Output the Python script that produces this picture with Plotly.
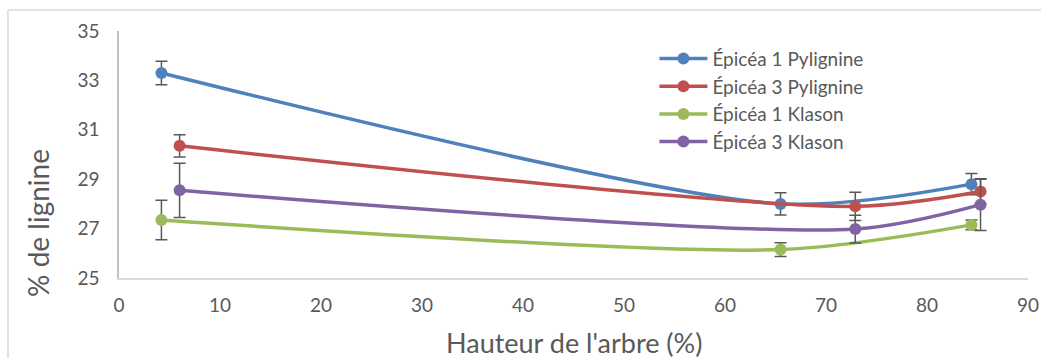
#
# Lignin content along the tree height (Pylignine vs Klason), spruce 1 and 3
#
import plotly.graph_objects as go

# series: x = tree height (%), y = % lignin, err = error bar (+/-)
names = ["Épicéa 1 Pylignine", "Épicéa 3 Pylignine", "Épicéa 1 Klason", "Épicéa 3 Klason"]
colors = ["#4F81BD", "#C0504D", "#9BBB59", "#8064A2"]

x_epicea1 = [4.2, 65.5, 84.4]
x_epicea3 = [6.0, 72.9, 85.3]

y_e1_pyl = [33.3, 28.0, 28.8]
y_e3_pyl = [30.35, 27.9, 28.5]
y_e1_kla = [27.35, 26.15, 27.15]
y_e3_kla = [28.55, 26.98, 27.97]

err_e1_pyl = [0.48, 0.45, 0.43]
err_e3_pyl = [0.45, 0.57, 0.5]
err_e1_kla = [0.8, 0.28, 0.2]
err_e3_kla = [1.1, 0.56, 1.05]

series = [
    (x_epicea1, y_e1_pyl, err_e1_pyl),
    (x_epicea3, y_e3_pyl, err_e3_pyl),
    (x_epicea1, y_e1_kla, err_e1_kla),
    (x_epicea3, y_e3_kla, err_e3_kla),
]

FONT = "Lato, sans-serif"
GREY = "#595959"

fig = go.Figure()
for name, col, (xs, ys, es) in zip(names, colors, series):
    fig.add_trace(go.Scatter(
        x=xs, y=ys, name=name, mode="lines+markers",
        line=dict(color=col, width=3.5, shape="spline", smoothing=0.8),
        marker=dict(color=col, size=12),
        error_y=dict(type="data", array=es, visible=True,
                     color=GREY, thickness=1.5, width=6),
    ))

# light border of the chart area (only top and left are visible in the crop)
fig.add_shape(type="line", xref="paper", yref="paper",
              x0=-0.1221, x1=1.03, y0=1.085, y1=1.085,
              line=dict(color="#d9d9d9", width=1.5))
fig.add_shape(type="line", xref="paper", yref="paper",
              x0=-0.1221, x1=-0.1221, y0=1.085, y1=-0.4,
              line=dict(color="#d9d9d9", width=1.5))

# axis titles placed by hand (Excel-like positions)
fig.add_annotation(text="Hauteur de l'arbre (%)", xref="paper", yref="paper",
                   x=0.5, y=-0.263, xanchor="center", yanchor="middle",
                   showarrow=False, font=dict(size=27, color=GREY))
fig.add_annotation(text="% de lignine", xref="paper", yref="paper",
                   x=-0.0891, y=0.223, xanchor="center", yanchor="middle",
                   textangle=-90, showarrow=False, font=dict(size=28, color=GREY))

fig.update_layout(
    width=1041, height=358,
    margin=dict(l=119, r=13, t=31, b=80),
    paper_bgcolor="white", plot_bgcolor="white",
    font=dict(family=FONT, color=GREY, size=18),
    showlegend=True,
    legend=dict(x=0.589, y=0.965, xanchor="left", yanchor="top",
                bgcolor="rgba(0,0,0,0)", font=dict(size=19, color=GREY),
                itemwidth=48, tracegroupgap=0),
)
fig.update_xaxes(
    range=[0, 90], tickvals=list(range(0, 91, 10)),
    showgrid=False, zeroline=False, showline=True, automargin=False,
    linecolor="#d9d9d9", linewidth=1.5,
    tickfont=dict(size=19, color=GREY), ticks="", ticklabelstandoff=9,
)
fig.update_yaxes(
    range=[25, 35], tickvals=list(range(25, 36, 2)),
    showgrid=False, zeroline=False, showline=True, automargin=False,
    linecolor="#bfbfbf", linewidth=1.5,
    tickfont=dict(size=19, color=GREY), ticks="", ticklabelstandoff=14,
)

# drop the default 8px body margin so the figure fills the window
fig.write_html("out.html", config={"displayModeBar": False},
               post_script="document.body.style.margin='0';document.body.style.overflow='hidden';")
